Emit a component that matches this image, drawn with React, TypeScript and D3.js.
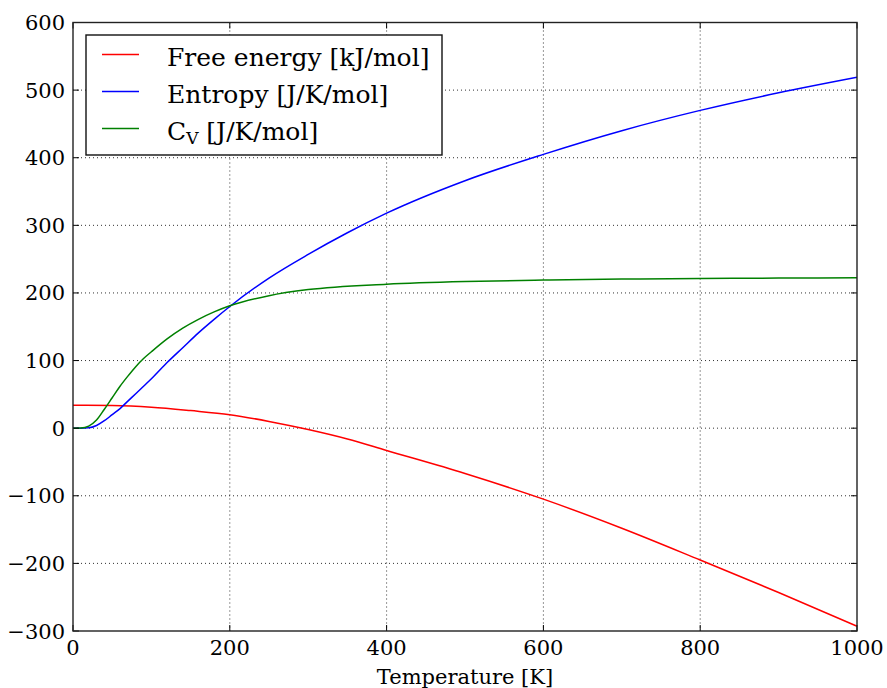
import React from "react";
import * as d3 from "d3";

const xTicks = [0, 200, 400, 600, 800, 1000];
const yTicks = [-300, -200, -100, 0, 100, 200, 300, 400, 500, 600];

const feT = [0, 50, 100, 150, 200, 250, 300, 350, 400, 500, 600, 700, 800, 900, 1000];
const feV = [34, 33.5, 31, 26, 20, 10, -2, -16, -33, -67, -105, -148, -195, -243, -293];

const sT = [0, 10, 20, 30, 40, 50, 60, 70, 80, 90, 100, 120, 140, 160, 180, 200, 250, 300, 350, 400, 500, 600, 700, 800, 900, 1000];
const sV = [0, 0, 0.5, 4, 11, 20, 29, 40, 51, 62, 73, 97, 119, 141, 161, 180, 222, 257, 289, 318, 366, 405, 440, 470, 496, 519];

const cT = [0, 10, 20, 30, 40, 50, 60, 70, 80, 90, 100, 120, 140, 160, 180, 200, 250, 300, 400, 500, 600, 700, 800, 900, 1000];
const cV = [0, 0.2, 3, 12, 28, 45, 62, 77, 91, 103, 113, 132, 148, 161, 172, 181, 196, 205, 213, 217, 219, 220.5, 221.5, 222, 222.5];

const W = 887, H = 688;
const left = 73, right = 857, top = 22.5, bottom = 631;
const font = "'DejaVu Serif', serif";

export default function App() {
  const x = d3.scaleLinear().domain([0, 1000]).range([left, right]);
  const y = d3.scaleLinear().domain([-300, 600]).range([bottom, top]);
  const line = (ts: number[], vs: number[]) =>
    d3.line<number>().x((_, i) => x(ts[i])).y((v) => y(v)).curve(d3.curveMonotoneX)(vs) || "";

  const series = [
    { t: feT, v: feV, color: "#ff0000" },
    { t: sT, v: sV, color: "#0000ff" },
    { t: cT, v: cV, color: "#008000" },
  ];

  const lx = 86, ly = 35, lw = 356, lh = 120;
  const rows = [54.5, 91.5, 128.5];

  return (
    <svg width={W} height={H} style={{ position: "absolute", left: 0, top: 0, background: "#fff" }}>
      <defs>
        <clipPath id="plot">
          <rect x={left} y={top} width={right - left} height={bottom - top} />
        </clipPath>
      </defs>
      {xTicks.slice(1, -1).map((t) => (
        <line key={"gx" + t} x1={x(t)} x2={x(t)} y1={top} y2={bottom} stroke="#000" strokeWidth={1} strokeDasharray="1,3" opacity={0.8} />
      ))}
      {yTicks.slice(1, -1).map((t) => (
        <line key={"gy" + t} x1={left} x2={right} y1={y(t)} y2={y(t)} stroke="#000" strokeWidth={1} strokeDasharray="1,3" opacity={0.8} />
      ))}
      <g clipPath="url(#plot)">
        {series.map((s, i) => (
          <path key={i} d={line(s.t, s.v)} fill="none" stroke={s.color} strokeWidth={1.5} />
        ))}
      </g>
      {xTicks.map((t) => (
        <g key={"tx" + t}>
          <line x1={x(t)} x2={x(t)} y1={bottom} y2={bottom - 6} stroke="#000" strokeWidth={1} />
          <line x1={x(t)} x2={x(t)} y1={top} y2={top + 6} stroke="#000" strokeWidth={1} />
          <text x={x(t)} y={655} textAnchor="middle" fontFamily={font} fontSize={21} fill="#000">{t}</text>
        </g>
      ))}
      {yTicks.map((t) => (
        <g key={"ty" + t}>
          <line x1={left} x2={left + 6} y1={y(t)} y2={y(t)} stroke="#000" strokeWidth={1} />
          <line x1={right} x2={right - 6} y1={y(t)} y2={y(t)} stroke="#000" strokeWidth={1} />
          <text x={65} y={y(t) + 7.5} textAnchor="end" fontFamily={font} fontSize={21} fill="#000">
            {t < 0 ? "\u2212" + Math.abs(t) : t}
          </text>
        </g>
      ))}
      <rect x={left} y={top} width={right - left} height={bottom - top} fill="none" stroke="#222" strokeWidth={1.4} />
      <text x={(left + right) / 2} y={684} textAnchor="middle" fontFamily={font} fontSize={21} fill="#000">Temperature [K]</text>
      <rect x={lx} y={ly} width={lw} height={lh} fill="#fff" stroke="#111" strokeWidth={1.4} />
      {series.map((s, i) => (
        <line key={"ll" + i} x1={102} x2={139} y1={rows[i]} y2={rows[i]} stroke={s.color} strokeWidth={1.5} />
      ))}
      <text x={167} y={rows[0] + 11} fontFamily={font} fontSize={25} fill="#000">Free energy [kJ/mol]</text>
      <text x={167} y={rows[1] + 11} fontFamily={font} fontSize={25} fill="#000">Entropy [J/K/mol]</text>
      <text x={167} y={rows[2] + 11} fontFamily={font} fontSize={25} fill="#000">
        C<tspan fontSize={17} dy="4">V</tspan><tspan dy="-4"> [J/K/mol]</tspan>
      </text>
    </svg>
  );
}
